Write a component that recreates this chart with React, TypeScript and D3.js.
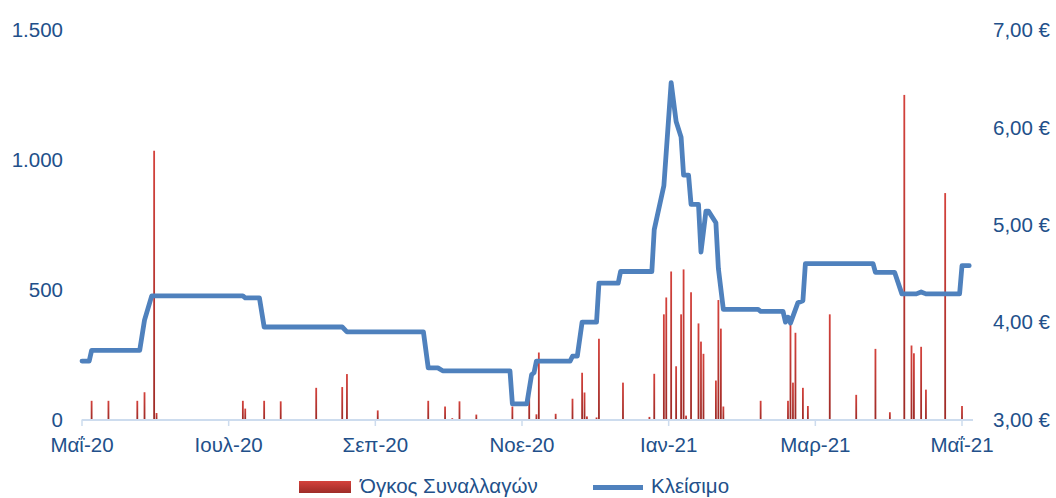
import React from 'react';
import * as d3 from 'd3';

const tickDates = ['2020-05-01', '2020-07-01', '2020-09-01', '2020-11-01', '2021-01-01', '2021-03-01', '2021-05-01'];
const tickLabels = ['Μαΐ-20', 'Ιουλ-20', 'Σεπ-20', 'Νοε-20', 'Ιαν-21', 'Μαρ-21', 'Μαΐ-21'];

const volumeTicks = [0, 500, 1000, 1500];
const volumeTickLabels = ['0', '500', '1.000', '1.500'];
const priceTicks = [3, 4, 5, 6, 7];
const priceTickLabels = ['3,00 €', '4,00 €', '5,00 €', '6,00 €', '7,00 €'];

const seriesNames = ['Όγκος Συναλλαγών', 'Κλείσιμο'];

const volumeDates = [
  '2020-05-05', '2020-05-12', '2020-05-24', '2020-05-27', '2020-05-31', '2020-06-01',
  '2020-07-07', '2020-07-08', '2020-07-16', '2020-07-23', '2020-08-07', '2020-08-18', '2020-08-20',
  '2020-09-02', '2020-09-23', '2020-09-30', '2020-10-03', '2020-10-06', '2020-10-13', '2020-10-28',
  '2020-11-04', '2020-11-07', '2020-11-08', '2020-11-15', '2020-11-22', '2020-11-26', '2020-11-27', '2020-11-28',
  '2020-12-02', '2020-12-03', '2020-12-13', '2020-12-24', '2020-12-26', '2020-12-30', '2020-12-31',
  '2021-01-02', '2021-01-04', '2021-01-06', '2021-01-07', '2021-01-08', '2021-01-10', '2021-01-13',
  '2021-01-14', '2021-01-15', '2021-01-20', '2021-01-21', '2021-01-22', '2021-01-23',
  '2021-02-07', '2021-02-18', '2021-02-19', '2021-02-20', '2021-02-21', '2021-02-24', '2021-02-26',
  '2021-03-07', '2021-03-18', '2021-03-26', '2021-04-01', '2021-04-07', '2021-04-10', '2021-04-11',
  '2021-04-14', '2021-04-16', '2021-04-24', '2021-05-01',
];
const volumeValues = [
  72, 72, 72, 105, 1035, 25,
  72, 42, 72, 70, 122, 125, 175,
  35, 72, 50, 5, 70, 19, 50,
  140, 20, 258, 22, 80, 180, 104, 12,
  8, 311, 142, 10, 176, 405, 470,
  570, 205, 405, 578, 15, 490, 370,
  300, 253, 150, 460, 350, 50,
  72, 72, 370, 142, 334, 122, 52,
  405, 95, 272, 28, 1250, 285, 255,
  280, 115, 872, 52,
];

const closeDates = [
  '2020-05-01', '2020-05-04', '2020-05-05', '2020-05-25', '2020-05-27', '2020-05-30',
  '2020-07-07', '2020-07-08', '2020-07-14', '2020-07-16', '2020-08-18', '2020-08-20',
  '2020-09-21', '2020-09-23', '2020-09-27', '2020-09-29', '2020-10-27', '2020-10-28',
  '2020-11-03', '2020-11-05', '2020-11-06', '2020-11-07', '2020-11-21', '2020-11-22',
  '2020-11-24', '2020-11-26', '2020-12-02', '2020-12-03', '2020-12-11', '2020-12-12',
  '2020-12-25', '2020-12-26', '2020-12-30', '2021-01-02', '2021-01-04', '2021-01-06',
  '2021-01-07', '2021-01-09', '2021-01-10', '2021-01-13', '2021-01-14', '2021-01-16',
  '2021-01-17', '2021-01-20', '2021-01-21', '2021-01-23', '2021-02-06', '2021-02-07',
  '2021-02-16', '2021-02-17', '2021-02-18', '2021-02-19', '2021-02-22', '2021-02-24',
  '2021-02-25', '2021-03-25', '2021-03-26', '2021-04-03', '2021-04-06', '2021-04-12',
  '2021-04-14', '2021-04-16', '2021-04-30', '2021-05-01', '2021-05-04',
];
const closeValues = [
  3.60, 3.60, 3.71, 3.71, 4.02, 4.27,
  4.27, 4.25, 4.25, 3.95, 3.95, 3.90,
  3.90, 3.53, 3.53, 3.50, 3.50, 3.16,
  3.16, 3.46, 3.48, 3.60, 3.60, 3.65,
  3.65, 4.00, 4.00, 4.40, 4.40, 4.52,
  4.52, 4.95, 5.40, 6.46, 6.06, 5.90,
  5.51, 5.51, 5.21, 5.21, 4.72, 5.14,
  5.14, 5.02, 4.55, 4.13, 4.13, 4.11,
  4.11, 4.00, 4.05, 3.99, 4.20, 4.22,
  4.60, 4.60, 4.51, 4.51, 4.29, 4.29,
  4.31, 4.29, 4.29, 4.58, 4.58,
];

const parse = d3.timeParse('%Y-%m-%d');

const W = 1056;
const H = 498;
const left = 82;
const right = 962;
const top = 30;
const bottom = 419.5;

const TEXT = '#22508a';
const LINE = '#4f81bd';
const AXIS = '#cddcee';
const FONT = '"Liberation Sans", Arial, sans-serif';

export default function App() {
  const tDates = tickDates.map((d) => parse(d) as Date);
  const x = d3
    .scaleTime()
    .domain(tDates)
    .range(tDates.map((_, i) => left + (i * (right - left)) / (tDates.length - 1)));
  const yVol = d3.scaleLinear().domain([0, 1500]).range([bottom, top]);
  const yPrice = d3.scaleLinear().domain([3, 7]).range([bottom, top]);

  const closeData = closeDates.map((d, i) => ({ date: parse(d) as Date, v: closeValues[i] }));
  const line = d3
    .line<{ date: Date; v: number }>()
    .x((d) => x(d.date))
    .y((d) => yPrice(d.v));

  const barW = 1.8;
  const axisEnd = 973;

  return (
    <svg
      width={W}
      height={H}
      style={{ position: 'absolute', left: 0, top: 0, background: '#fff' }}
      fontFamily={FONT}
    >
      <defs>
        <linearGradient id="barGrad" x1="0" y1="0" x2="0" y2="1">
          <stop offset="0%" stopColor="#d4423c" />
          <stop offset="100%" stopColor="#9e2b27" />
        </linearGradient>
      </defs>
      <rect x={0} y={0} width={W} height={H} fill="#fff" />

      {/* bars */}
      {volumeDates.map((d, i) => {
        const cx = x(parse(d) as Date);
        const v = volumeValues[i];
        return (
          <rect
            key={d}
            x={cx - barW / 2}
            y={yVol(v)}
            width={barW}
            height={yVol(0) - yVol(v)}
            fill="url(#barGrad)"
          />
        );
      })}

      {/* x axis */}
      <line x1={left} x2={axisEnd} y1={bottom + 0.5} y2={bottom + 0.5} stroke={AXIS} strokeWidth={2} />
      {tDates.map((d, i) => (
        <g key={tickLabels[i]}>
          <line x1={x(d)} x2={x(d)} y1={bottom} y2={bottom + 6.5} stroke={AXIS} strokeWidth={1.5} />
          <text x={x(d)} y={452} textAnchor="middle" fontSize={20.5} fill={TEXT}>
            {tickLabels[i]}
          </text>
        </g>
      ))}

      {/* closing line */}
      <path
        d={line(closeData) || ''}
        fill="none"
        stroke={LINE}
        strokeWidth={4.8}
        strokeLinejoin="round"
        strokeLinecap="round"
      />

      {/* left axis labels */}
      {volumeTicks.map((t, i) => (
        <text key={t} x={63} y={yVol(t) + 7.3} textAnchor="end" fontSize={20.5} fill={TEXT}>
          {volumeTickLabels[i]}
        </text>
      ))}

      {/* right axis labels */}
      {priceTicks.map((t, i) => (
        <text key={t} x={993} y={yPrice(t) + 7.3} textAnchor="start" fontSize={20.5} fill={TEXT}>
          {priceTickLabels[i]}
        </text>
      ))}

      {/* legend */}
      <rect x={299} y={481} width={52} height={12} fill="url(#barGrad)" />
      <text x={360} y={493} fontSize={20.5} fill={TEXT}>
        {seriesNames[0]}
      </text>
      <line x1={593} x2={643} y1={487.5} y2={487.5} stroke={LINE} strokeWidth={4.8} />
      <text x={651} y={493} fontSize={20.5} fill={TEXT}>
        {seriesNames[1]}
      </text>
    </svg>
  );
}
